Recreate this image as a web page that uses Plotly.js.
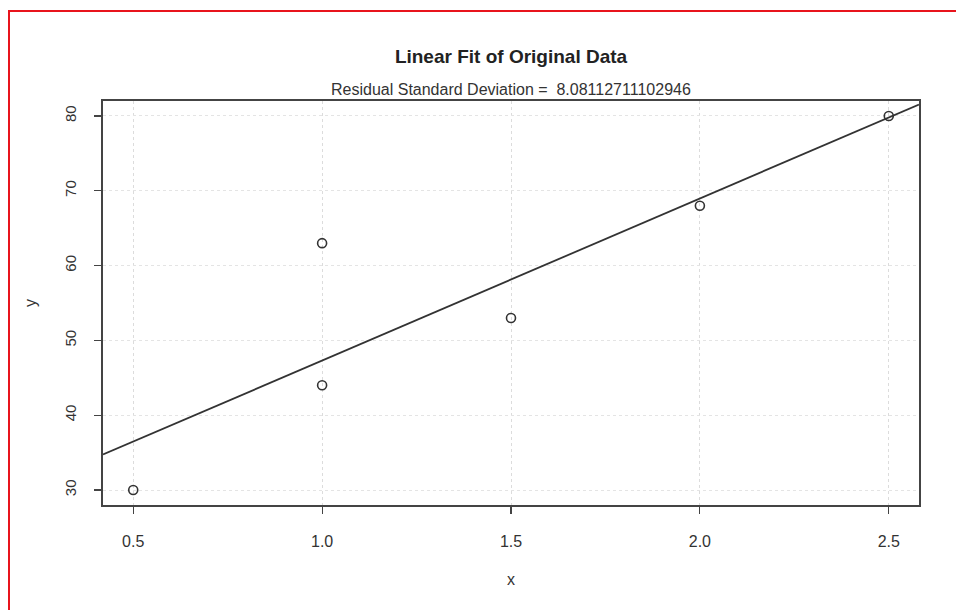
<!DOCTYPE html>
<html>
<head>
<meta charset="utf-8">
<script src="https://cdn.plot.ly/plotly-3.0.1.min.js"></script>
<style>
  html, body { margin: 0; padding: 0; background: #fff; }
  #wrap { position: relative; width: 956px; height: 610px; overflow: hidden; }
  #chart { width: 956px; height: 610px; }
  #frame { position: absolute; left: 8px; top: 10px; width: 1000px; height: 700px;
           border: 2px solid #e8141c; box-sizing: border-box; pointer-events: none; }
</style>
</head>
<body>
<div id="wrap">
  <div id="chart"></div>
  <div id="frame"></div>
</div>
<script>
// Data
const xValues = [0.5, 1.0, 1.0, 1.5, 2.0, 2.5];
const yValues = [30, 44, 63, 53, 68, 80];
const xTicks = [0.5, 1.0, 1.5, 2.0, 2.5];
const xTickLabels = ['0.5', '1.0', '1.5', '2.0', '2.5'];
const yTicks = [30, 40, 50, 60, 70, 80];
const yTickLabels = ['30', '40', '50', '60', '70', '80'];
const chartTitle = 'Linear Fit of Original Data';
const subTitle = 'Residual Standard Deviation =  8.08112711102946';

// Least-squares fit
const n = xValues.length;
const mx = xValues.reduce((a, b) => a + b, 0) / n;
const my = yValues.reduce((a, b) => a + b, 0) / n;
let sxy = 0, sxx = 0;
for (let i = 0; i < n; i++) { sxy += (xValues[i] - mx) * (yValues[i] - my); sxx += (xValues[i] - mx) ** 2; }
const slope = sxy / sxx;
const intercept = my - slope * mx;

// R-style 4% axis extension
const xr = [Math.min(...xValues), Math.max(...xValues)];
const yr = [Math.min(...yValues), Math.max(...yValues)];
const xRange = [xr[0] - 0.04 * (xr[1] - xr[0]), xr[1] + 0.04 * (xr[1] - xr[0])];
const yRange = [yr[0] - 0.04 * (yr[1] - yr[0]), yr[1] + 0.04 * (yr[1] - yr[0])];

const fitX = [xRange[0], xRange[1]];
const fitY = fitX.map(x => intercept + slope * x);

const font = 'Liberation Sans, Arial, Helvetica, sans-serif';
const ink = '#333333';

const traces = [
  {
    x: xValues, y: yValues, type: 'scatter', mode: 'markers',
    marker: { symbol: 'circle-open', size: 9, color: ink, line: { width: 1.6, color: ink } },
    hoverinfo: 'skip', showlegend: false, cliponaxis: false
  },
  {
    x: fitX, y: fitY, type: 'scatter', mode: 'lines',
    line: { color: ink, width: 1.8 }, hoverinfo: 'skip', showlegend: false
  }
];

const layout = {
  width: 956, height: 610,
  margin: { l: 103, r: 37, t: 101, b: 105 },
  paper_bgcolor: '#ffffff', plot_bgcolor: '#ffffff',
  font: { family: font, color: ink, size: 14 },
  title: {
    text: '<b>' + chartTitle + '</b>',
    font: { family: font, size: 19, color: '#222' },
    x: 0.5, xanchor: 'center', xref: 'paper',
    y: 1 - 56 / 610, yanchor: 'middle', yref: 'container'
  },
  annotations: [
    { text: subTitle, xref: 'paper', yref: 'paper', x: 0.5, y: 1, yanchor: 'bottom', xanchor: 'center',
      yshift: 1, showarrow: false, font: { family: font, size: 16, color: '#333' } }
  ],
  xaxis: {
    range: xRange, tickvals: xTicks, ticktext: xTickLabels,
    showgrid: true, gridcolor: '#dcdcdc', griddash: 'dot', gridwidth: 1,
    zeroline: false, showline: true, mirror: true, linecolor: '#444', linewidth: 1.6,
    ticks: 'outside', ticklen: 7, tickwidth: 1.2, tickcolor: '#444',
    ticklabelstandoff: 14,
    tickfont: { family: font, size: 16, color: ink },
    title: { text: 'x', font: { family: font, size: 16, color: ink }, standoff: 25 }
  },
  yaxis: {
    range: yRange, tickvals: yTicks, ticktext: yTickLabels,
    showgrid: true, gridcolor: '#e4e4e4', griddash: 'dot', gridwidth: 1,
    zeroline: false, showline: true, mirror: true, linecolor: '#444', linewidth: 1.6,
    ticks: 'outside', ticklen: 7, tickwidth: 1.2, tickcolor: '#444',
    tickangle: -90, ticklabelstandoff: 12,
    tickfont: { family: font, size: 15, color: ink },
    title: { text: 'y', font: { family: font, size: 16, color: ink }, standoff: 22 }
  }
};

Plotly.newPlot('chart', traces, layout, { staticPlot: true, displayModeBar: false });
</script>
</body>
</html>
